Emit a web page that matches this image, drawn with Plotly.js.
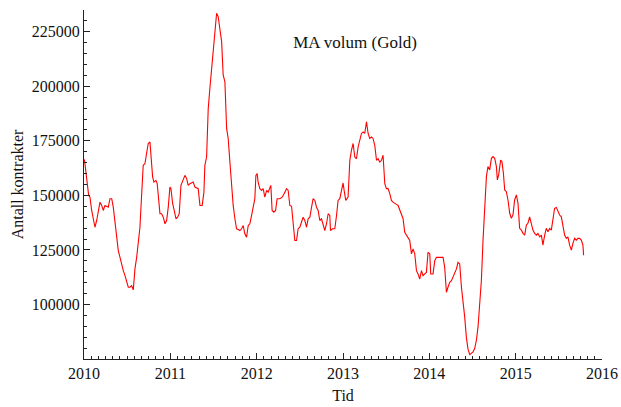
<!DOCTYPE html>
<html>
<head>
<meta charset="utf-8">
<script src="https://cdn.plot.ly/plotly-3.0.1.min.js"></script>
<style>html,body{margin:0;padding:0;background:#fff;}#chart{width:621px;height:407px;}</style>
</head>
<body>
<div id="chart"></div>
<script>
// Time (decimal years) and moving-average volume (contracts)
const years = [
2010.005,2010.023,2010.038,2010.054,2010.069,2010.089,2010.108,2010.127,2010.147,2010.166,
2010.185,2010.205,2010.223,2010.243,2010.281,2010.301,2010.321,2010.339,2010.359,2010.378,
2010.397,2010.417,2010.436,2010.455,2010.475,2010.494,2010.513,2010.532,2010.552,2010.571,
2010.590,2010.610,2010.628,2010.648,2010.660,2010.671,2010.686,2010.706,2010.726,2010.744,
2010.764,2010.775,2010.795,2010.810,2010.833,2010.848,2010.865,2010.880,2010.899,2010.918,
2010.938,2010.957,2010.976,2010.995,2011.007,2011.027,2011.045,2011.065,2011.084,2011.103,
2011.123,2011.142,2011.169,2011.189,2011.207,2011.227,2011.265,2011.285,2011.323,2011.343,
2011.369,2011.389,2011.400,2011.420,2011.432,2011.439,2011.458,2011.478,2011.497,2011.516,
2011.536,2011.554,2011.574,2011.594,2011.612,2011.632,2011.652,2011.670,2011.690,2011.709,
2011.728,2011.748,2011.767,2011.786,2011.806,2011.825,2011.844,2011.863,2011.883,2011.902,
2011.921,2011.941,2011.959,2011.979,2011.991,2012.006,2012.017,2012.037,2012.057,2012.075,
2012.095,2012.115,2012.133,2012.153,2012.164,2012.179,2012.199,2012.219,2012.237,2012.269,
2012.295,2012.318,2012.346,2012.365,2012.384,2012.404,2012.423,2012.442,2012.462,2012.480,
2012.500,2012.520,2012.538,2012.558,2012.578,2012.596,2012.616,2012.636,2012.654,2012.674,
2012.693,2012.712,2012.731,2012.751,2012.770,2012.789,2012.809,2012.828,2012.847,2012.855,
2012.878,2012.905,2012.925,2012.943,2012.963,2012.983,2013.001,2013.013,2013.032,2013.059,
2013.079,2013.098,2013.117,2013.137,2013.156,2013.175,2013.194,2013.214,2013.233,2013.252,
2013.272,2013.291,2013.310,2013.330,2013.348,2013.368,2013.388,2013.406,2013.426,2013.446,
2013.464,2013.484,2013.503,2013.522,2013.542,2013.561,2013.580,2013.600,2013.619,2013.638,
2013.677,2013.696,2013.715,2013.735,2013.754,2013.773,2013.793,2013.811,2013.831,2013.851,
2013.869,2013.889,2013.909,2013.927,2013.947,2013.966,2013.985,2014.005,2014.016,2014.043,
2014.063,2014.082,2014.120,2014.159,2014.178,2014.198,2014.216,2014.236,2014.256,2014.274,
2014.294,2014.314,2014.332,2014.352,2014.372,2014.390,2014.410,2014.429,2014.448,2014.468,
2014.488,2014.506,2014.525,2014.545,2014.564,2014.583,2014.603,2014.622,2014.641,2014.661,
2014.679,2014.699,2014.719,2014.737,2014.757,2014.777,2014.788,2014.803,2014.826,2014.841,
2014.858,2014.873,2014.892,2014.911,2014.931,2014.950,2014.969,2014.988,2015.008,2015.027,
2015.046,2015.066,2015.085,2015.104,2015.124,2015.142,2015.162,2015.182,2015.200,2015.220,
2015.240,2015.258,2015.278,2015.298,2015.316,2015.336,2015.355,2015.374,2015.394,2015.413,
2015.432,2015.451,2015.471,2015.490,2015.509,2015.529,2015.547,2015.567,2015.587,2015.605,
2015.625,2015.645,2015.663,2015.683,2015.703,2015.721,2015.741,2015.760,2015.779,2015.787
];
const volume = [
166500,161500,155400,150000,149200,143100,138500,135400,138500,143100,
146900,145400,143100,145400,144600,148500,148500,144600,138500,132400,
124700,121600,117800,115500,113200,110200,107900,107900,108600,106700,
116300,121600,127800,135400,144600,155400,163800,164600,169200,173800,
174500,169200,158400,156100,156900,155400,147700,141600,141600,140000,
137000,138500,144600,153800,153100,146200,143100,139300,140000,141600,
154600,156900,159200,157700,154600,155400,156100,153800,153100,145400,
145400,151500,163800,167600,179100,189800,199000,208200,215900,222000,
233500,232000,226600,220500,205200,202100,180700,176100,165300,154600,
145400,139300,134700,134400,133900,134700,136200,132400,130800,136200,
137000,140800,145400,148500,159200,160000,156100,153100,152300,153100,
149200,152300,151500,153800,154600,143100,142300,143100,148500,148500,
149200,150800,153100,152300,145400,145000,135400,129300,129300,134700,
135400,138500,140000,138500,135400,139300,140000,144600,148500,147700,
144600,143100,138500,139300,136200,133900,137000,141600,140800,133900,
134700,134700,140800,147700,148500,152300,155700,152300,147700,149200,
166100,170700,173800,167600,166800,172200,176100,178400,179100,178400,
183700,178400,176100,176800,176100,173000,166100,166800,165300,166100,
168400,155400,153100,153100,150800,147700,146900,146200,145900,145400,
141600,139300,133100,131600,130800,129300,123200,125500,123200,115500,
114000,111700,115500,113200,114000,114700,123900,123200,114000,114000,
120100,121600,121600,121600,117000,105600,107900,110200,110900,112500,
114000,116300,119300,118600,107900,101700,94100,84900,79500,77000,
77500,78200,79800,83600,89700,98900,111100,129500,143300,158600,
163200,161700,167000,167800,167000,163200,157100,159400,166200,165500,
160100,152500,151700,147900,141800,139500,141100,147900,150200,146400,
134900,134100,132600,131800,136400,137200,140200,137200,134100,132600,
131800,132600,131000,131800,127200,131800,134900,133300,134900,134100,
138700,144100,144500,142500,141000,140200,135600,131800,130300,131000,
127200,124900,128000,130300,129500,130300,130300,129500,127200,122600
];
const xTickVals = [2010, 2011, 2012, 2013, 2014, 2015, 2016];
const yTickVals = [100000, 125000, 150000, 175000, 200000, 225000];
const chartTitle = "MA volum (Gold)";
const xTitle = "Tid";
const yTitle = "Antall kontrakter";

const serif = "Liberation Serif, Times New Roman, serif";
const trace = {
  x: years, y: volume, type: "scatter", mode: "lines",
  line: {color: "#ff0000", width: 1.1}, hoverinfo: "skip"
};
const axisCommon = {
  showgrid: false, zeroline: false, showline: true, linecolor: "#222", linewidth: 1,
  ticks: "inside", ticklen: 6, tickwidth: 1, tickcolor: "#222",
  tickfont: {family: serif, size: 16, color: "#111"}, tickformat: "d"
};
const layout = {
  width: 621, height: 407,
  margin: {l: 84, r: 19, t: 10, b: 48},
  paper_bgcolor: "#fff", plot_bgcolor: "#fff",
  showlegend: false,
  title: {text: chartTitle, font: {family: serif, size: 17, color: "#111"},
          x: 355/621, xanchor: "center", xref: "container", y: 1 - 42/407, yanchor: "middle", yref: "container"},
  xaxis: Object.assign({}, axisCommon, {
    range: [2010, 2016], tickvals: xTickVals, ticktext: xTickVals.map(String),
    minor: {dtick: 1/12, tick0: 2010, ticks: "inside", ticklen: 3, tickcolor: "#222", showgrid: false},
    title: {text: xTitle, font: {family: serif, size: 16, color: "#111"}, standoff: 8}
  }),
  yaxis: Object.assign({}, axisCommon, {
    range: [75000, 235000], tickvals: yTickVals, ticktext: yTickVals.map(String),
    minor: {dtick: 5000, tick0: 0, ticks: "inside", ticklen: 3, tickcolor: "#222", showgrid: false},
    title: {text: yTitle, font: {family: serif, size: 16, color: "#111"}, standoff: 4}
  })
};
Plotly.newPlot("chart", [trace], layout, {staticPlot: true, displayModeBar: false});
</script>
</body>
</html>
